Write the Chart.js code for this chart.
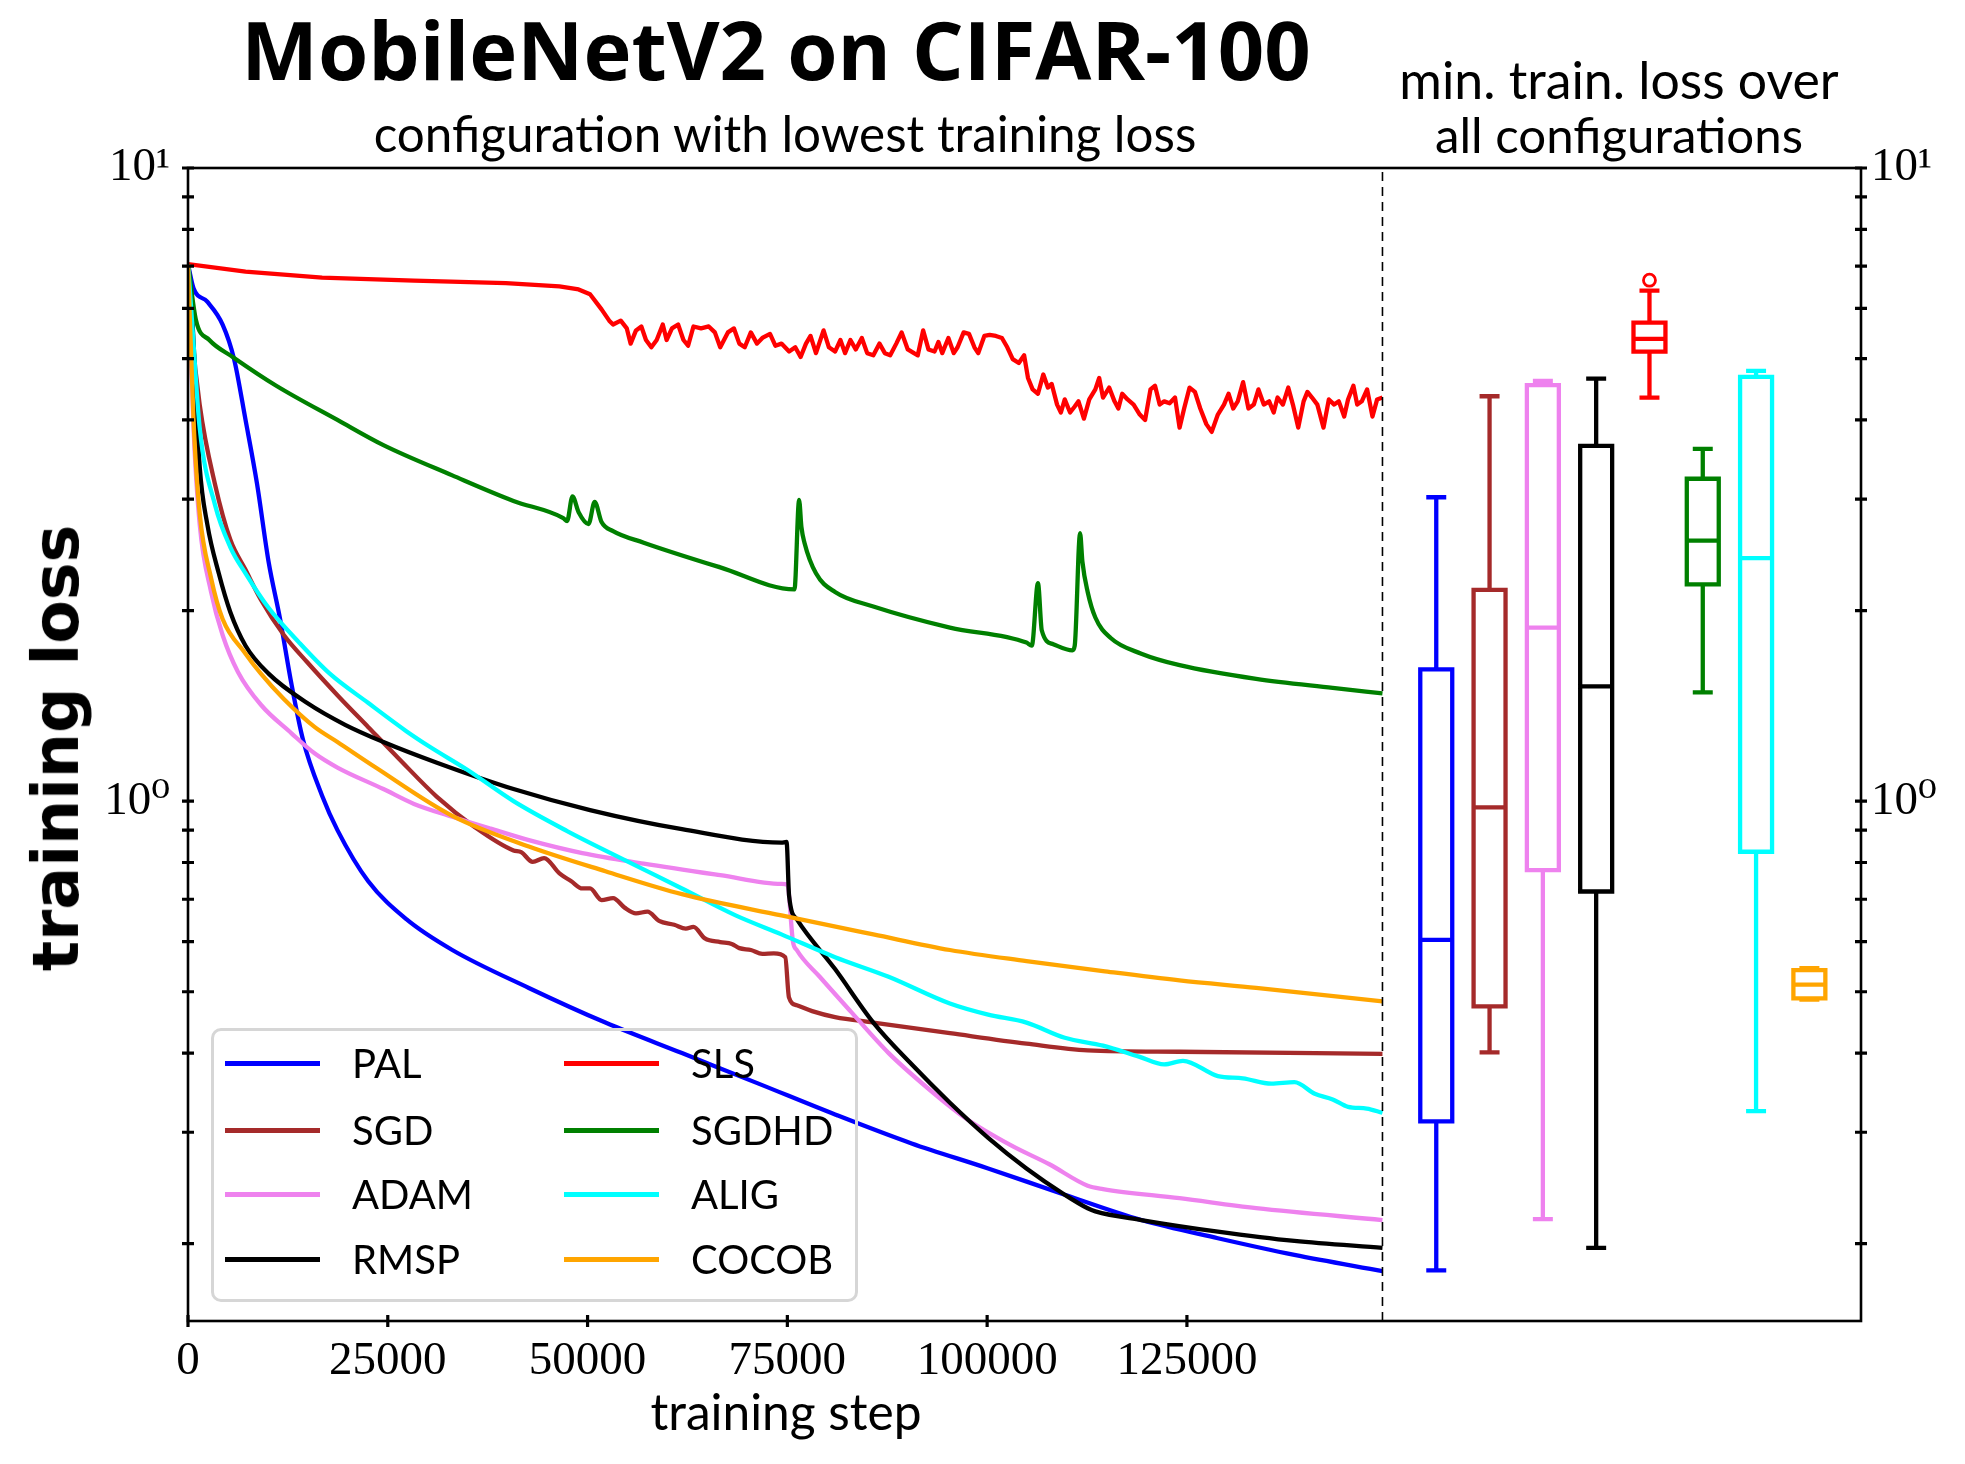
<!DOCTYPE html>
<html><head><meta charset="utf-8">
<script src="https://cdn.jsdelivr.net/npm/chart.js"></script>
<style>
html,body{margin:0;padding:0;background:#fff;}
#wrap{position:relative;width:1965px;height:1464px;overflow:hidden;background:#fff;}
#c{position:absolute;left:0;top:0;}
.t{position:absolute;font-family:Lato,'Open Sans',sans-serif;color:#000;white-space:nowrap;transform:translate(-50%,-50%);line-height:1.2;}
.b{font-family:'DejaVu Sans',sans-serif;font-weight:bold;}
.ob{font-family:'Open Sans','DejaVu Sans',sans-serif;font-weight:bold;}
#legend{position:absolute;left:211px;top:1028px;width:647px;height:274px;box-sizing:border-box;border:3px solid #d6d6d6;border-radius:10px;}
.ll{position:absolute;width:95px;height:5px;}
.lt{position:absolute;font-family:Lato,'Open Sans',sans-serif;font-size:40px;white-space:nowrap;transform:translateY(-50%);line-height:1.2;}
</style></head><body>
<div id="wrap">
<canvas id="c" width="1965" height="1464"></canvas>
<div class="t ob" id="title" data-w="1070" style="left:776px;top:49px;font-size:74px;">MobileNetV2 on CIFAR-100</div>
<div class="t" id="sub1" data-w="823" style="left:785px;top:134px;font-size:48px;">configuration with lowest training loss</div>
<div class="t" id="sub2" data-w="439" style="left:1619px;top:79px;font-size:48px;">min. train. loss over</div>
<div class="t" id="sub3" data-w="368" style="left:1619px;top:134px;font-size:48px;">all configurations</div>
<div class="t" id="xt" data-w="271" style="left:786px;top:1412px;font-size:46px;">training step</div>
<div class="t b" id="yt" data-w="447" style="left:56px;top:748px;font-size:64px;transform:translate(-50%,-50%) rotate(-90deg);">training loss</div>
<div id="legend"></div>
</div>
<script>
// ---------------- data ----------------
const seriesNames = ['PAL','SGD','ADAM','RMSP','SLS','SGDHD','ALIG','COCOB'];

const palSteps = [0,690,2410,4330,5770,7200,8640,10080,11520,12950,14390,16780,18700,22530,27320,33070,42650,52230,61810,71390,80970,90550,100130,109710,119290,128870,138450,149470];
const palLoss  = [7.05,6.46,6.15,5.66,4.99,4.00,3.17,2.39,1.94,1.53,1.25,1.02,0.90,0.748,0.651,0.582,0.507,0.447,0.400,0.358,0.320,0.288,0.263,0.239,0.218,0.204,0.192,0.181];

const sgdSteps = [0,500,1460,3370,5290,7200,9120,11990,14870,18700,22530,26360,31150,35940,40730,41690,43130,44560,46480,47920,49360,50310,51750,53190,54630,56060,57500,58940,60850,62290,63250,64680,66600,68040,68990,70430,71870,73310,74740,75200,76180,78100,80970,85760,95340,104920,112580,124080,149470];
const sgdLoss  = [7.05,5.50,4.23,3.17,2.59,2.32,2.08,1.83,1.66,1.47,1.31,1.168,1.016,0.909,0.836,0.831,0.802,0.813,0.769,0.748,0.728,0.728,0.698,0.703,0.679,0.665,0.669,0.647,0.638,0.629,0.633,0.607,0.599,0.595,0.586,0.582,0.574,0.575,0.567,0.490,0.476,0.466,0.456,0.447,0.430,0.414,0.404,0.402,0.399];

const adamSteps = [0,690,1460,2890,4330,6250,9120,12950,15830,18700,24450,28280,33070,37860,42650,49350,57020,66600,74260,75000,75700,76180,79050,82890,87680,92470,97260,103000,107790,112580,114500,124080,133660,149470];
const adamLoss  = [7.05,3.89,2.74,2.14,1.83,1.60,1.42,1.28,1.19,1.13,1.045,0.99,0.945,0.905,0.868,0.828,0.797,0.764,0.740,0.738,0.600,0.582,0.528,0.466,0.400,0.353,0.316,0.286,0.267,0.247,0.244,0.236,0.2276,0.218];

const rmspSteps = [0,500,980,1460,2410,3850,5290,7200,10080,14870,19660,24450,31150,40730,50310,61810,74260,74900,75220,76180,80970,85760,90550,95340,100130,104920,109710,112580,113540,119290,128870,138450,149470];
const rmspLoss  = [7.05,5.90,4.47,3.38,2.74,2.29,1.99,1.76,1.59,1.43,1.32,1.24,1.15,1.045,0.968,0.903,0.860,0.862,0.708,0.651,0.543,0.447,0.384,0.334,0.294,0.263,0.239,0.2275,0.225,0.218,0.209,0.202,0.197];

const slsSteps = [0,7200,16780,28280,39780,46480,48880,50310,51750,52710,53190,54150,54910,55390,56060,56730,57310,57980,58650,59410,59890,60560,61330,62000,62580,63250,64200,65160,65930,66600,67560,68320,68990,69670,70430,71200,71870,72830,73500,74260,75220,75990,76660,77330,77900,78580,79530,80200,80970,81640,82220,82890,83560,84320,84990,85760,86530,87200,87870,88630,89300,90070,90840,91320,91990,92660,93420,93900,94380,95150,95820,96300,97060,97730,98410,98880,99650,100320,101090,101850,102520,103200,103960,104630,105110,105690,106360,107030,107600,108080,108750,109230,109710,110380,110960,111430,112110,112780,113540,114020,114500,115270,115940,116420,116900,117570,118330,119100,119770,120440,121010,121590,122160,122830,123510,124080,124650,125330,126000,126670,127430,128100,128870,129640,130210,130790,131360,132030,132700,133370,133950,134620,135290,135860,136340,137010,137680,138260,138930,139600,140080,140650,141320,142090,142760,143430,144010,144680,145160,145830,146310,146880,147550,148220,148800,149470];
const slsLoss  = [7.05,6.86,6.71,6.64,6.58,6.50,6.43,6.32,5.98,5.74,5.66,5.74,5.58,5.28,5.54,5.62,5.35,5.21,5.35,5.66,5.35,5.58,5.66,5.35,5.24,5.62,5.58,5.62,5.50,5.21,5.50,5.58,5.28,5.21,5.50,5.28,5.39,5.47,5.24,5.28,5.13,5.21,5.03,5.28,5.43,5.10,5.54,5.21,5.13,5.35,5.10,5.35,5.17,5.39,5.10,5.06,5.28,5.10,5.06,5.28,5.50,5.17,5.10,5.06,5.54,5.17,5.13,5.31,5.10,5.39,5.10,5.21,5.50,5.47,5.21,5.10,5.43,5.45,5.43,5.39,5.21,4.99,4.92,5.06,4.66,4.47,4.40,4.72,4.50,4.56,4.23,4.11,4.31,4.11,4.20,4.28,4.02,4.31,4.47,4.66,4.34,4.50,4.28,4.17,4.40,4.31,4.23,4.08,4.00,4.47,4.53,4.23,4.28,4.25,4.34,3.89,4.17,4.50,4.43,4.17,3.94,3.83,4.08,4.23,4.40,4.17,4.28,4.59,4.17,4.23,4.47,4.23,4.28,4.11,4.34,4.23,4.50,4.23,3.89,4.28,4.43,4.34,4.23,3.89,4.31,4.23,4.28,4.05,4.31,4.53,4.23,4.28,4.47,4.05,4.31,4.34];

const sgdhdSteps = [0,1000,2670,5590,11040,18700,24450,33070,40730,46960,47440,48110,48880,50120,50890,51750,53190,57020,66600,75890,76470,76760,77140,78580,80970,85760,95340,104920,105590,106360,106840,108270,110670,110960,111630,111920,112580,113540,115460,119290,124080,133660,143240,149470];
const sgdhdLoss  = [7.05,5.75,5.35,5.03,4.53,4.00,3.65,3.27,2.98,2.80,2.77,3.03,2.86,2.74,2.97,2.76,2.67,2.56,2.34,2.16,2.99,2.71,2.56,2.29,2.14,2.03,1.88,1.78,1.76,2.21,1.86,1.77,1.73,1.76,2.65,2.39,2.14,1.95,1.81,1.71,1.64,1.56,1.51,1.48];

const aligSteps = [0,500,1460,3370,5290,7200,10080,13910,17740,22530,27320,30200,34990,40730,47440,55100,61810,68520,74260,80970,87670,95340,100130,104920,109710,114500,119000,122160,124500,128870,132000,135570,138450,141000,143240,145160,147500,149470];
const aligLoss  = [7.05,5.74,3.89,2.94,2.52,2.29,2.02,1.78,1.59,1.43,1.29,1.22,1.12,1.00,0.897,0.802,0.728,0.660,0.616,0.567,0.528,0.479,0.460,0.447,0.423,0.411,0.395,0.384,0.389,0.368,0.365,0.358,0.360,0.345,0.338,0.329,0.327,0.322];

const cocobSteps = [0,690,1460,2890,4330,7200,9120,11990,15830,18700,23490,33070,42650,52230,61810,74260,85760,95340,104920,114500,124080,133660,149470];
const cocobLoss  = [7.05,4.00,2.85,2.25,1.94,1.71,1.59,1.45,1.31,1.24,1.13,0.948,0.848,0.775,0.713,0.660,0.616,0.582,0.559,0.539,0.521,0.507,0.483];

// box plot summary (min. train. loss over all configurations), same order as seriesNames
const boxLow  = [0.1815,0.401,0.2187,0.197,4.34,1.485,0.324,0.486];
const boxQ1   = [0.312,0.474,0.778,0.720,5.13,2.20,0.832,0.488];
const boxMed  = [0.604,0.978,1.88,1.518,5.37,2.58,2.42,0.513];
const boxQ3   = [1.615,2.157,4.54,3.64,5.70,3.23,4.68,0.541];
const boxHigh = [3.02,4.36,4.61,4.65,6.40,3.60,4.78,0.545];
const boxFliers = [[],[],[],[],[6.65],[],[],[]];

const xTickValues = [0,25000,50000,75000,100000,125000];
const yTickValues = [0.2,0.3,0.4,0.5,0.6,0.7,0.8,0.9,1,2,3,4,5,6,7,8,9,10];
const yTickLabels = {1:'10\u2070', 10:'10\u00b9'};

// ---------------- layout / style ----------------
const colors = ['#0000ff','#a52a2a','#ee82ee','#000000','#ff0000','#008000','#00ffff','#ffa500'];
const noisySeries = ['SLS'];
const stepArrays = [palSteps,sgdSteps,adamSteps,rmspSteps,slsSteps,sgdhdSteps,aligSteps,cocobSteps];
const lossArrays = [palLoss,sgdLoss,adamLoss,rmspLoss,slsLoss,sgdhdLoss,aligLoss,cocobLoss];
const X_MAX = 209350, Y_MIN = 0.151, Y_MAX = 10;
const DIVIDER = 149470;
const BOX_FIRST = 156200, BOX_GAP = 6670, BOX_HALF = 2000, CAP_HALF = 1250;
const LINE_W = 4.3;

const datasets = [];
seriesNames.forEach((name, i) => {
  const ds = {
    label: name,
    data: stepArrays[i].map((s, k) => ({x: s, y: lossArrays[i][k]})),
    borderColor: colors[i], backgroundColor: colors[i],
    borderWidth: LINE_W, pointRadius: 0, tension: 0, fill: false,
    borderJoinStyle: 'round',
    order: 20 - i
  };
  if (!noisySeries.includes(name)) ds.cubicInterpolationMode = 'monotone';
  datasets.push(ds);
});

function boxPath(c, lo, q1, med, q3, hi) {
  const g = {x: c, y: null};
  return [
    {x: c - CAP_HALF, y: lo}, {x: c + CAP_HALF, y: lo}, g,
    {x: c, y: lo}, {x: c, y: q1}, g,
    {x: c - BOX_HALF, y: q1}, {x: c + BOX_HALF, y: q1}, {x: c + BOX_HALF, y: q3},
    {x: c - BOX_HALF, y: q3}, {x: c - BOX_HALF, y: q1}, {x: c + BOX_HALF, y: q1}, g,
    {x: c - BOX_HALF, y: med}, {x: c + BOX_HALF, y: med}, g,
    {x: c, y: q3}, {x: c, y: hi}, g,
    {x: c - CAP_HALF, y: hi}, {x: c + CAP_HALF, y: hi}
  ];
}
seriesNames.forEach((name, i) => {
  const c = BOX_FIRST + i * BOX_GAP;
  datasets.push({
    label: name + ' box',
    data: boxPath(c, boxLow[i], boxQ1[i], boxMed[i], boxQ3[i], boxHigh[i]),
    borderColor: colors[i], backgroundColor: 'transparent',
    borderWidth: LINE_W, pointRadius: 0, tension: 0, fill: false, spanGaps: false,
    borderJoinStyle: 'miter', order: 5
  });
  if (boxFliers[i].length) {
    datasets.push({
      label: name + ' fliers',
      data: boxFliers[i].map(v => ({x: c, y: v})),
      showLine: false, pointRadius: 6, pointStyle: 'circle',
      pointBorderColor: colors[i], pointBackgroundColor: 'rgba(0,0,0,0)', pointBorderWidth: 2.8,
      order: 4
    });
  }
});
datasets.push({
  label: 'divider',
  data: [{x: DIVIDER, y: Y_MIN}, {x: DIVIDER, y: Y_MAX}],
  borderColor: '#000', borderWidth: 1.6, borderDash: [9, 6], pointRadius: 0, fill: false, order: 1
});

const tickFont = {family: "'Liberation Serif','DejaVu Serif',serif", size: 47};

const frameTicks = {
  id: 'frameTicks',
  afterDraw(chart) {
    const ctx = chart.ctx, a = chart.chartArea;
    ctx.save();
    ctx.strokeStyle = '#000';
    ctx.lineWidth = 2.6;
    ctx.strokeRect(a.left, a.top, a.right - a.left, a.bottom - a.top);
    ctx.lineWidth = 3.2;
    ctx.beginPath();
    const ys = chart.scales.y;
    yTickValues.forEach(v => {
      const py = ys.getPixelForValue(v);
      ctx.moveTo(a.left - 6, py); ctx.lineTo(a.left + 6, py);
      ctx.moveTo(a.right - 6, py); ctx.lineTo(a.right + 6, py);
    });
    const xs = chart.scales.x;
    xTickValues.forEach(v => {
      const px = xs.getPixelForValue(v);
      ctx.moveTo(px, a.bottom - 6); ctx.lineTo(px, a.bottom + 6);
    });
    ctx.stroke();
    ctx.restore();
  }
};

const yLabel = v => (yTickLabels[v] !== undefined ? yTickLabels[v] : '');

new Chart(document.getElementById('c'), {
  type: 'line',
  data: {datasets},
  options: {
    responsive: false, animation: false, devicePixelRatio: 1,
    layout: {padding: {top: 168, left: 0, right: 0, bottom: 0}},
    plugins: {legend: {display: false}, tooltip: {enabled: false}, title: {display: false}},
    scales: {
      x: {
        type: 'linear', position: 'bottom', min: 0, max: X_MAX,
        afterBuildTicks: s => { s.ticks = xTickValues.map(v => ({value: v})); },
        afterFit: s => { s.height = 143; },
        ticks: {font: tickFont, color: '#000', padding: 12, maxRotation: 0, autoSkip: false, callback: v => String(v)},
        grid: {display: false, drawTicks: false}, border: {display: false}
      },
      y: {
        type: 'logarithmic', position: 'left', min: Y_MIN, max: Y_MAX,
        afterBuildTicks: s => { s.ticks = yTickValues.map(v => ({value: v})); },
        afterFit: s => { s.width = 188; },
        ticks: {font: tickFont, color: '#000', padding: 18, autoSkip: false, callback: yLabel},
        grid: {display: false, drawTicks: false}, border: {display: false}
      },
      y2: {
        type: 'logarithmic', position: 'right', min: Y_MIN, max: Y_MAX, display: true,
        afterBuildTicks: s => { s.ticks = yTickValues.map(v => ({value: v})); },
        afterFit: s => { s.width = 104; },
        ticks: {font: tickFont, color: '#000', padding: 10, autoSkip: false, callback: yLabel},
        grid: {display: false, drawTicks: false}, border: {display: false}
      }
    }
  },
  plugins: [frameTicks]
});

// legend (2 columns, column-major)
const lg = document.getElementById('legend');
seriesNames.forEach((name, i) => {
  const col = Math.floor(i / 4), row = i % 4;
  const y = [32, 99, 163, 228][row];
  const lx = col === 0 ? 11 : 350, tx = col === 0 ? 138 : 477;
  const line = document.createElement('div');
  line.className = 'll';
  line.style.left = lx + 'px'; line.style.top = (y - 2.5) + 'px'; line.style.background = colors[i];
  const txt = document.createElement('div');
  txt.className = 'lt';
  txt.style.left = tx + 'px'; txt.style.top = y + 'px';
  txt.textContent = name;
  lg.appendChild(line); lg.appendChild(txt);
});

// fit title text widths
document.querySelectorAll('.t[data-w]').forEach(el => {
  const target = parseFloat(el.dataset.w);
  const w = el.offsetWidth;
  const fs = parseFloat(getComputedStyle(el).fontSize);
  el.style.fontSize = (fs * target / w).toFixed(2) + 'px';
});
</script>
</body></html>
